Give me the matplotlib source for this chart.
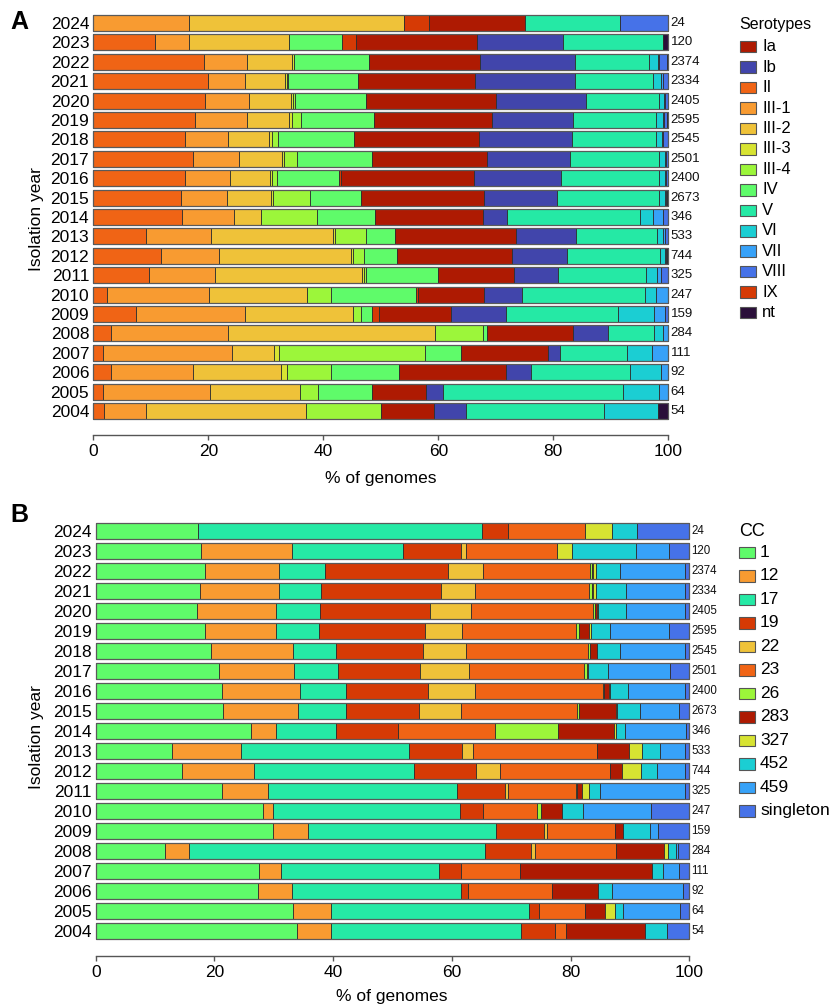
import matplotlib
matplotlib.use("Agg")
import matplotlib.pyplot as plt
from matplotlib.patches import Rectangle
import numpy as np

plt.rcParams['font.family'] = ['Liberation Sans', 'DejaVu Sans']

W, H = 832, 1007

years = [2024, 2023, 2022, 2021, 2020, 2019, 2018, 2017, 2016, 2015, 2014,
         2013, 2012, 2011, 2010, 2009, 2008, 2007, 2006, 2005, 2004]
counts = [24, 120, 2374, 2334, 2405, 2595, 2545, 2501, 2400, 2673, 346,
          533, 744, 325, 247, 159, 284, 111, 92, 64, 54]

# ---------------- Panel A: serotypes (% per year, years 2024 -> 2004) ----------------
sero_order = ['II', 'III-1', 'III-2', 'III-3', 'III-4', 'IV', 'IX', 'Ia', 'Ib',
              'V', 'VI', 'VII', 'VIII', 'nt']
sero_legend = ['Ia', 'Ib', 'II', 'III-1', 'III-2', 'III-3', 'III-4', 'IV', 'V',
               'VI', 'VII', 'VIII', 'IX', 'nt']
sero_colors = {'Ia': '#AE1A02', 'Ib': '#4145AB', 'II': '#F06415', 'III-1': '#F89B31',
               'III-2': '#EFC239', 'III-3': '#D7E332', 'III-4': '#9CF63A', 'IV': '#5FFB6A',
               'V': '#25E9A5', 'VI': '#1BCED3', 'VII': '#37A2F8', 'VIII': '#4672E8',
               'IX': '#D63A05', 'nt': '#2B0F3A'}

s_II    = [0, 10.8, 19.3, 20.0, 19.5, 17.6, 16.0, 17.3, 16.0, 15.2, 15.5, 9.1, 11.8, 9.7, 2.3, 7.5, 3.1, 1.7, 3.1, 1.6, 1.8]
s_III1  = [16.6, 5.8, 7.5, 6.4, 7.5, 9.2, 7.5, 8.1, 7.7, 8.1, 9.0, 11.4, 10.0, 11.5, 17.9, 18.8, 20.4, 22.5, 14.3, 18.7, 7.4]
s_III2  = [37.5, 17.5, 7.8, 6.9, 7.4, 7.3, 7.1, 7.5, 7.1, 7.6, 4.6, 21.1, 23.1, 25.5, 17.0, 18.9, 35.9, 7.3, 15.2, 15.6, 27.8]
s_III3  = [0, 0, 0.3, 0.4, 0.3, 0.4, 0.4, 0.3, 0.3, 0.4, 0, 0.5, 0.2, 0.3, 0, 0, 0, 0.8, 1.0, 0, 0]
s_III4  = [0, 0, 0, 0.2, 0.3, 1.7, 1.1, 2.3, 0.8, 6.4, 9.8, 5.3, 2.0, 0.4, 4.1, 1.3, 8.4, 25.3, 7.7, 3.1, 13.0]
s_IV    = [0, 9.1, 13.0, 12.1, 12.5, 12.6, 13.2, 12.9, 10.9, 8.9, 10.1, 5.1, 5.8, 12.5, 14.8, 1.9, 0.7, 6.3, 11.9, 9.4, 0]
s_IX    = [4.2, 2.5, 0, 0, 0, 0, 0, 0, 0.3, 0, 0, 0, 0, 0, 0.4, 1.2, 0, 0, 0, 0, 0]
s_Ia    = [16.7, 21.0, 19.4, 20.3, 22.5, 20.6, 21.7, 20.1, 23.1, 21.4, 18.8, 21.0, 19.9, 13.3, 11.4, 12.6, 14.9, 15.2, 18.5, 9.4, 9.3]
s_Ib    = [0, 14.9, 16.4, 17.4, 15.6, 14.1, 16.3, 14.4, 15.1, 12.6, 4.1, 10.4, 9.5, 7.7, 6.6, 9.5, 6.1, 2.0, 4.4, 3.1, 5.5]
s_V     = [16.6, 17.5, 13.0, 13.7, 12.7, 14.3, 14.6, 15.4, 17.0, 17.7, 23.1, 14.1, 16.3, 15.3, 21.4, 19.5, 8.0, 11.7, 17.3, 31.3, 24.1]
s_VI    = [0, 0, 1.5, 1.4, 1.0, 1.3, 1.0, 1.2, 1.2, 1.1, 2.3, 1.0, 0.8, 1.9, 2.0, 6.3, 1.6, 4.4, 5.4, 6.2, 9.3]
s_VII   = [0, 0, 0.1, 0.2, 0.2, 0.2, 0.2, 0.1, 0.1, 0.2, 1.8, 0.5, 0.2, 0.6, 2.1, 1.9, 0.9, 2.8, 1.2, 1.6, 0]
s_VIII  = [8.4, 0, 1.5, 0.9, 0.4, 0.4, 0.8, 0.3, 0.3, 0.1, 0.9, 0.5, 0.2, 1.3, 0, 0.6, 0, 0, 0, 0, 0]
s_nt    = [0, 0.9, 0.2, 0.1, 0.1, 0.3, 0.1, 0.1, 0.1, 0.3, 0, 0, 0.2, 0, 0, 0, 0, 0, 0, 0, 1.8]
sero_values = {'II': s_II, 'III-1': s_III1, 'III-2': s_III2, 'III-3': s_III3, 'III-4': s_III4,
               'IV': s_IV, 'IX': s_IX, 'Ia': s_Ia, 'Ib': s_Ib, 'V': s_V, 'VI': s_VI,
               'VII': s_VII, 'VIII': s_VIII, 'nt': s_nt}

# ---------------- Panel B: clonal complexes ----------------
cc_order = ['1', '12', '17', '19', '22', '23', '26', '283', '327', '452', '459', 'singleton']
cc_colors = {'1': '#5FFB6A', '12': '#F89B31', '17': '#25E9A5', '19': '#D63A05',
             '22': '#EFC239', '23': '#F06415', '26': '#9CF63A', '283': '#AE1A02',
             '327': '#D7E332', '452': '#1BCED3', '459': '#37A2F8', 'singleton': '#4672E8'}

c_1    = [17.3, 17.8, 18.4, 17.5, 17.0, 18.4, 19.4, 20.7, 21.2, 21.5, 26.1, 12.8, 14.5, 21.2, 28.1, 29.8, 11.6, 27.5, 27.4, 33.3, 33.9]
c_12   = [0, 15.2, 12.5, 13.3, 13.4, 12.0, 13.9, 12.7, 13.3, 12.5, 4.2, 11.7, 12.2, 7.9, 1.7, 5.9, 4.1, 3.7, 5.6, 6.3, 5.7]
c_17   = [47.8, 18.7, 7.7, 7.1, 7.4, 7.3, 7.1, 7.4, 7.6, 8.1, 10.1, 28.2, 26.9, 31.7, 31.6, 31.8, 49.9, 26.6, 28.5, 33.4, 32.0]
c_19   = [4.4, 9.9, 20.7, 20.3, 18.5, 17.7, 14.7, 13.8, 13.9, 12.4, 10.6, 9.0, 10.4, 8.2, 3.9, 8.0, 7.8, 3.7, 1.2, 1.6, 5.8]
c_22   = [0, 0.8, 6.0, 5.7, 7.0, 6.3, 7.3, 8.3, 7.9, 7.0, 0, 1.9, 4.1, 0.5, 0, 0.6, 0.6, 0, 0, 0, 0]
c_23   = [13.0, 15.3, 17.9, 19.2, 20.5, 19.2, 20.5, 19.4, 21.5, 19.6, 16.2, 20.9, 18.5, 11.4, 9.0, 11.3, 13.6, 10.0, 14.2, 7.9, 1.9]
c_26   = [0, 0, 0.4, 0.5, 0.3, 0.6, 0.4, 0.4, 0.3, 0.4, 10.6, 0, 0, 0.2, 0.8, 0, 0, 0, 0, 0, 0]
c_283  = [0, 0, 0.2, 0.1, 0.3, 1.6, 1.1, 0.1, 0.8, 6.1, 9.5, 5.3, 2.0, 0.8, 3.5, 1.4, 8.1, 22.2, 7.8, 3.3, 13.2]
c_327  = [4.4, 2.6, 0.5, 0.5, 0.3, 0.3, 0.1, 0.2, 0.2, 0.3, 0.4, 2.3, 3.2, 1.2, 0, 0, 0.7, 0, 0, 1.6, 0]
c_452  = [4.3, 10.8, 4.0, 5.1, 4.6, 3.2, 3.8, 3.3, 2.9, 3.8, 1.4, 3.0, 2.8, 1.9, 3.5, 4.6, 1.4, 1.8, 2.2, 1.5, 3.8]
c_459  = [0, 5.4, 10.9, 9.9, 9.9, 10.0, 11.0, 10.5, 9.6, 6.5, 10.3, 4.2, 4.7, 14.2, 11.4, 1.4, 0.3, 2.7, 12.1, 9.6, 0]
c_sing = [8.8, 3.5, 0.8, 0.8, 0.8, 3.4, 0.7, 3.2, 0.8, 1.8, 0.6, 0.7, 0.7, 0.8, 6.5, 5.2, 1.9, 1.8, 1.0, 1.5, 3.7]
cc_values = {'1': c_1, '12': c_12, '17': c_17, '19': c_19, '22': c_22, '23': c_23,
             '26': c_26, '283': c_283, '327': c_327, '452': c_452, '459': c_459,
             'singleton': c_sing}

fig = plt.figure(figsize=(W / 100, H / 100), dpi=100)


def px_axes(left, right, top, bottom):
    return fig.add_axes([left / W, 1 - bottom / H, (right - left) / W, (bottom - top) / H])


def draw_panel(ax, order, values, colors, bar_h, ylim, count_size, count_pad):
    ypos = np.arange(len(years))[::-1]  # 2024 at top
    left = np.zeros(len(years))
    for key in order:
        v = np.array(values[key], dtype=float)
        ax.barh(ypos, v, left=left, height=bar_h, color=colors[key],
                edgecolor='#2e2e2e', linewidth=0.6, clip_on=False, zorder=2)
        left = left + v
    # outer border
    ax.barh(ypos, left, height=bar_h, fill=False, edgecolor='#5a5a5a',
            linewidth=0.9, clip_on=False, zorder=3)
    for y, tot, n in zip(ypos, left, counts):
        ax.text(tot + count_pad, y, str(n), va='center', ha='left',
                fontsize=count_size, color='#111111')
    ax.set_xlim(0, 100)
    ax.set_ylim(*ylim)
    ax.set_yticks(ypos)
    ax.set_yticklabels([str(y) for y in years], fontsize=12.5)
    ax.tick_params(axis='y', length=0, pad=3)
    ax.set_xticks([0, 20, 40, 60, 80, 100])
    ax.tick_params(axis='x', length=3.5, width=1, color='#555555', labelsize=12.5, pad=3)
    for s in ['top', 'right', 'left']:
        ax.spines[s].set_visible(False)
    ax.spines['bottom'].set_color('#555555')
    ax.spines['bottom'].set_linewidth(1.0)
    ax.spines['bottom'].set_bounds(0, 100)
    ax.set_facecolor('none')


axA = px_axes(93.3, 668.3, 13, 435)
draw_panel(axA, sero_order, sero_values, sero_colors, 0.83, (-1.237, 20.515), 9.5, 0.4)

axB = px_axes(95.7, 689.3, 519, 956)
draw_panel(axB, cc_order, cc_values, cc_colors, 0.80, (-1.25, 20.6), 8.3, 0.35)

# overlay in pixel coordinates for labels and legends
ov = fig.add_axes([0, 0, 1, 1], zorder=-1)
ov.set_xlim(0, W)
ov.set_ylim(H, 0)
ov.axis('off')

ov.text(10, 22, 'A', fontsize=18, fontweight='bold', ha='left', va='center')
ov.text(10, 515, 'B', fontsize=18, fontweight='bold', ha='left', va='center')
ov.text(37, 219, 'Isolation year', rotation=90, fontsize=12.5, ha='center', va='center')
ov.text(37, 737, 'Isolation year', rotation=90, fontsize=12.5, ha='center', va='center')
ov.text(381, 479, '% of genomes', fontsize=12.5, ha='center', va='center')
ov.text(392, 997, '% of genomes', fontsize=12.5, ha='center', va='center')

# legend A
ov.text(739, 24, 'Serotypes', fontsize=11.5, ha='left', va='center')
for i, key in enumerate(sero_legend):
    yc = 46.7 + i * 20.45
    ov.add_patch(Rectangle((739.5, yc - 5.8), 16, 11.6, facecolor=sero_colors[key],
                           edgecolor='#555555', linewidth=0.8))
    ov.text(762, yc, key, fontsize=12, ha='left', va='center')

# legend B
ov.text(739, 532, 'CC', fontsize=13, ha='left', va='center')
for i, key in enumerate(cc_order):
    yc = 552.3 + i * 23.5
    ov.add_patch(Rectangle((738.5, yc - 5.8), 16.5, 11.6, facecolor=cc_colors[key],
                           edgecolor='#555555', linewidth=0.8))
    ov.text(760, yc, key, fontsize=12.5, ha='left', va='center')

fig.savefig('out.png', dpi=100)
